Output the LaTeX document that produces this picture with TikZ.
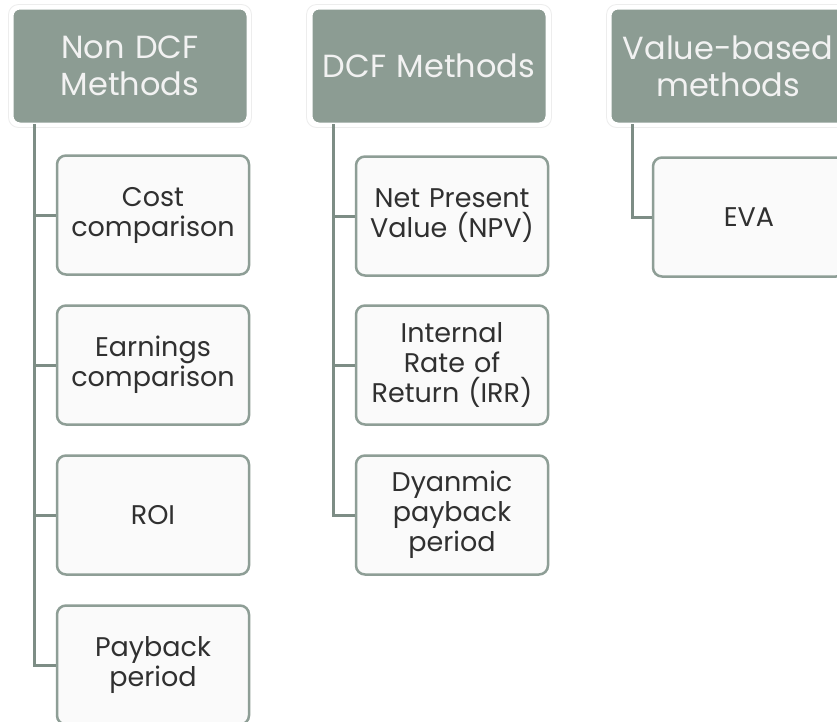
\documentclass[tikz,border=0pt]{standalone}
\usepackage{fontspec}
\setmainfont{Poppins}
\definecolor{hdrfill}{HTML}{8C9C93}
\definecolor{boxline}{HTML}{8E9E96}
\definecolor{conncol}{HTML}{7D8D85}
\definecolor{boxfill}{HTML}{FAFAFA}
\definecolor{txtcol}{HTML}{303030}
\tikzset{
  hdr/.style={draw=white, line width=3pt, fill=hdrfill, rounded corners=8pt,
    minimum width=236pt, minimum height=116pt, text width=230pt, align=center,
    inner sep=0pt, text=white!95!black,
    font=\fontsize{32}{37}\selectfont},
  hdrshadow/.style={draw=black!7, line width=0.8pt, rounded corners=10pt},
  child/.style={draw=boxline, line width=2.5pt, fill=boxfill, rounded corners=9pt,
    minimum width=192pt, minimum height=119pt, text width=188pt, align=center,
    inner sep=0pt, text=txtcol, font=\fontsize{27}{30}\selectfont},
  conn/.style={draw=conncol, line width=3pt}
}
\begin{document}
\begin{tikzpicture}[x=1pt,y=1pt]
\useasboundingbox (0,0) rectangle (837,-721);
\clip (0,0) rectangle (837,-721);
\fill[white] (0,0) rectangle (837,-721);
% header shadows
\draw[hdrshadow] (8.5,-4.5) rectangle (251.5,-127.5);
\draw[hdrshadow] (306.5,-4.5) rectangle (551.5,-127.5);
\draw[hdrshadow] (606.5,-4.5) rectangle (849.5,-127.5);
% headers
\node[hdr] (h1) at (130,-66) {Non DCF\\Methods};
\node[hdr] (h2) at (429,-66) {DCF Methods};
\node[hdr] (h3) at (728,-66) {Value-based\\methods};
% connector origins
\coordinate (v1) at (34,-124);
\coordinate (v2) at (333,-124);
\coordinate (v3) at (632,-124);
% children
\node[child] (a1) at (153,-215) {Cost\\comparison};
\node[child] (a2) at (153,-365) {Earnings\\comparison};
\node[child] (a3) at (153,-515) {ROI};
\node[child] (a4) at (153,-665) {Payback\\period};
\node[child] (b1) at (452,-216) {Net Present\\Value (NPV)};
\node[child] (b2) at (452,-365) {Internal\\Rate of\\Return (IRR)};
\node[child] (b3) at (452,-515) {Dyanmic\\payback\\period};
\node[child] (c1) at (749,-217) {EVA};
% connectors
\draw[conn] (v1) |- (a1.west);
\draw[conn] (v1) |- (a2.west);
\draw[conn] (v1) |- (a3.west);
\draw[conn] (v1) |- (a4.west);
\draw[conn] (v2) |- (b1.west);
\draw[conn] (v2) |- (b2.west);
\draw[conn] (v2) |- (b3.west);
\draw[conn] (v3) |- (c1.west);
\end{tikzpicture}
\end{document}
